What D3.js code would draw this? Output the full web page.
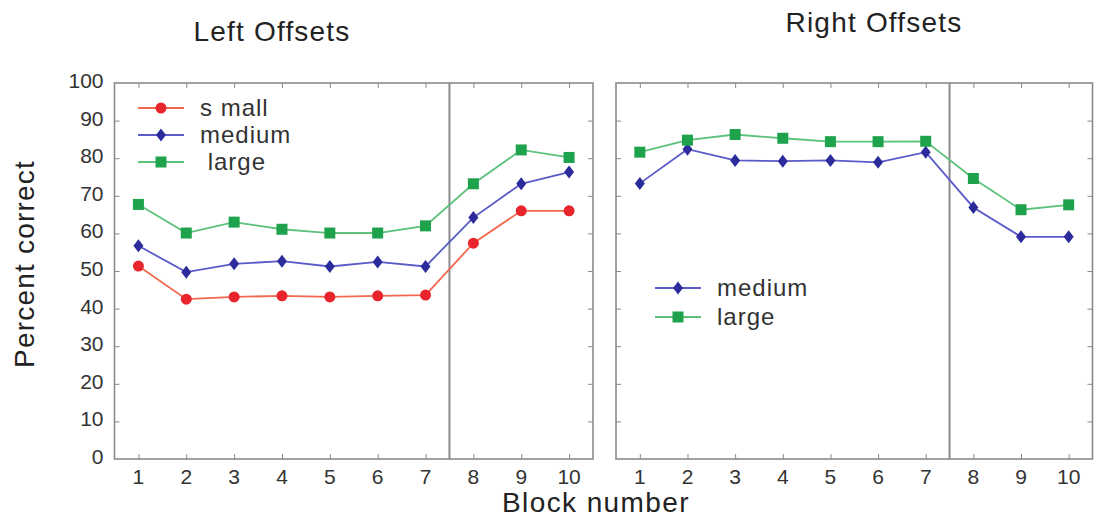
<!DOCTYPE html>
<html>
<head>
<meta charset="utf-8">
<script src="https://cdn.jsdelivr.net/npm/d3@7"></script>
<style>
  body { margin: 0; background: #fff; }
  text { font-family: "Liberation Sans", Arial, sans-serif; fill: #333; white-space: pre; }
</style>
</head>
<body>
<div id="chart"></div>
<script>
// data
var blocks = [1, 2, 3, 4, 5, 6, 7, 8, 9, 10];
var yTicks = [0, 10, 20, 30, 40, 50, 60, 70, 80, 90, 100];

var leftSmall  = [51.3, 42.5, 43.1, 43.4, 43.1, 43.4, 43.6, 57.4, 66.0, 66.0];
var leftMedium = [56.7, 49.7, 51.9, 52.6, 51.2, 52.4, 51.2, 64.2, 73.2, 76.3];
var leftLarge  = [67.7, 60.1, 63.0, 61.1, 60.1, 60.1, 62.0, 73.2, 82.2, 80.2];

var rightMedium = [73.3, 82.4, 79.4, 79.2, 79.4, 78.9, 81.6, 66.9, 59.1, 59.1];
var rightLarge  = [81.6, 84.8, 86.3, 85.3, 84.4, 84.4, 84.5, 74.6, 66.3, 67.6];

var styles = {
  small:  { line: "#f2674f", fill: "#e8242c", shape: "circle" },
  medium: { line: "#5a5ac8", fill: "#2b2b9c", shape: "diamond" },
  large:  { line: "#5cc27a", fill: "#1ea34c", shape: "square" }
};

var svg = d3.select("#chart").append("svg")
  .attr("width", 1096)
  .attr("height", 519);

var y = d3.scaleLinear().domain([0, 100]).range([459, 83]);

function marker(g, kind, cx, cy) {
  var st = styles[kind];
  if (st.shape == "circle") {
    g.append("circle").attr("cx", cx).attr("cy", cy).attr("r", 5.5).style("fill", st.fill);
  } else if (st.shape == "diamond") {
    g.append("path")
      .attr("d", "M" + cx + "," + (cy - 6.5) + "L" + (cx + 5) + "," + cy + "L" + cx + "," + (cy + 6.5) + "L" + (cx - 5) + "," + cy + "Z")
      .style("fill", st.fill);
  } else {
    g.append("rect").attr("x", cx - 5.5).attr("y", cy - 5.5).attr("width", 11).attr("height", 11).style("fill", st.fill);
  }
}

function greyTicks(a) {
  a.select(".domain").remove();
  a.selectAll("line").style("stroke", "#888");
}

function panel(x0, x1, title, tx, ty, series, showYLabels, legend) {
  var x = d3.scaleLinear().domain([0.5, 10.5]).range([x0, x1]);
  var g = svg.append("g");

  // inward ticks on all four sides
  g.append("g").attr("transform", "translate(0,459)")
    .call(d3.axisTop(x).tickValues(blocks).tickSize(5).tickFormat("")).call(greyTicks);
  g.append("g").attr("transform", "translate(0,83)")
    .call(d3.axisBottom(x).tickValues(blocks).tickSize(5).tickFormat("")).call(greyTicks);
  g.append("g").attr("transform", "translate(" + x0 + ",0)")
    .call(d3.axisRight(y).tickValues(yTicks.slice(1, 10)).tickSize(5).tickFormat("")).call(greyTicks);
  g.append("g").attr("transform", "translate(" + x1 + ",0)")
    .call(d3.axisLeft(y).tickValues(yTicks.slice(1, 10)).tickSize(5).tickFormat("")).call(greyTicks);

  g.append("rect")
    .attr("x", x0).attr("y", y(100))
    .attr("width", x1 - x0).attr("height", y(0) - y(100))
    .style("fill", "none").style("stroke", "#8a8a8a").style("stroke-width", 1.6);

  // divider between block 7 and 8
  g.append("line")
    .attr("x1", x(7.5)).attr("x2", x(7.5))
    .attr("y1", y(100)).attr("y2", y(0))
    .style("stroke", "#8a8a8a").style("stroke-width", 2);

  // tick labels
  g.selectAll(".xl").data(blocks).enter().append("text")
    .attr("x", function(d) { return x(d); })
    .attr("y", 484)
    .attr("text-anchor", "middle")
    .style("font-size", "21px")
    .text(function(d) { return d; });

  if (showYLabels) {
    g.selectAll(".yl").data(yTicks).enter().append("text")
      .attr("x", x0 - 11)
      .attr("y", function(d) { return y(d) + 5; })
      .attr("text-anchor", "end")
      .style("font-size", "21px")
      .text(function(d) { return d; });
  }

  g.append("text").attr("x", tx).attr("y", ty)
    .attr("text-anchor", "middle")
    .style("font-size", "28px").style("letter-spacing", "1.2px").style("fill", "#222")
    .text(title);

  var line = d3.line()
    .x(function(d, i) { return x(blocks[i]); })
    .y(function(d) { return y(d); });

  series.forEach(function(s) {
    g.append("path")
      .attr("d", line(s.values))
      .style("fill", "none")
      .style("stroke", styles[s.kind].line)
      .style("stroke-width", 1.8);
    s.values.forEach(function(v, i) { marker(g, s.kind, x(blocks[i]), y(v)); });
  });

  legend.items.forEach(function(it, i) {
    var ly = legend.y + i * legend.step;
    g.append("line")
      .attr("x1", legend.x).attr("x2", legend.x + 46)
      .attr("y1", ly).attr("y2", ly)
      .style("stroke", styles[it.kind].line).style("stroke-width", 1.8);
    marker(g, it.kind, legend.x + 23, ly);
    g.append("text")
      .attr("x", legend.x + legend.tdx).attr("y", ly + 8)
      .style("font-size", "24px").style("letter-spacing", "1px").style("fill", "#333")
      .text(it.label);
  });
}

panel(114.5, 593, "Left Offsets", 272, 41,
  [{ kind: "small", values: leftSmall }, { kind: "medium", values: leftMedium }, { kind: "large", values: leftLarge }],
  true,
  { x: 138, y: 108, step: 27, tdx: 62, items: [{ kind: "small", label: "s mall" }, { kind: "medium", label: "medium" }, { kind: "large", label: " large" }] });

panel(616, 1092.5, "Right Offsets", 874, 32,
  [{ kind: "medium", values: rightMedium }, { kind: "large", values: rightLarge }],
  false,
  { x: 655, y: 288, step: 29, tdx: 62, items: [{ kind: "medium", label: "medium" }, { kind: "large", label: "large" }] });

svg.append("text")
  .attr("transform", "translate(34,264) rotate(-90)")
  .attr("text-anchor", "middle")
  .style("font-size", "28px").style("letter-spacing", "1.2px").style("fill", "#222")
  .text("Percent correct");

svg.append("text")
  .attr("x", 596).attr("y", 512)
  .attr("text-anchor", "middle")
  .style("font-size", "28px").style("letter-spacing", "1.4px").style("fill", "#222")
  .text("Block number");
</script>
</body>
</html>
